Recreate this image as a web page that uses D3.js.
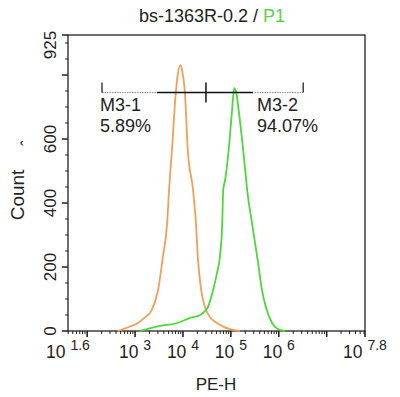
<!DOCTYPE html>
<html><head><meta charset="utf-8">
<script src="https://cdn.jsdelivr.net/npm/d3@7"></script>
<style>body{margin:0;background:#fff}svg{display:block}text{font-family:"Liberation Sans",Arial,sans-serif}</style>
</head><body>
<script>
// ---- data ----
const titleMain = "bs-1363R-0.2 / ";
const titleGate = "P1";
const xLabel = "PE-H";
const yLabel = "Count";
const yMax = 925;
const yTickLabels = [0, 200, 400, 600, 925];
const xTickLabelExps = ["1.6", "3", "4", "5", "6", "7.8"];
const xDomainExp = [1.6, 7.8];

// control (orange) histogram: log10(PE-H), count
const ctrlLog = [2.64,2.75,2.9,3.06,3.2,3.35,3.48,3.58,3.67,3.71,3.77,3.85,3.89,3.94,3.98,4.04,4.10,4.21,4.27,4.31,4.38,4.46,4.56,4.71,4.85,4.98,5.19];
const ctrlCnt = [0,6,14,25,42,66,128,231,338,441,566,744,800,831,816,744,566,441,338,231,128,75,44,25,13,6,0];

// sample (green) histogram
const sampLog = [3.10,3.25,3.52,3.88,4.15,4.36,4.46,4.52,4.63,4.71,4.77,4.82,4.84,4.88,4.96,5.02,5.07,5.11,5.17,5.25,5.32,5.34,5.44,5.55,5.65,5.73,5.86,5.98,6.13];
const sampCnt = [0,6,16,25,41,50,63,75,128,181,231,338,441,472,575,681,759,747,681,575,472,441,338,231,128,75,25,6,0];

// gates
const gateNames = ["M3-1", "M3-2"];
const gatePcts = ["5.89%", "94.07%"];
const gateBoundsLog = [2.31, 4.48, 6.51];
const gateSolidLog = [3.46, 5.46];
const gateLevel = 745;

// ---- drawing ----
const W = 400, H = 397;
const L = 68, R = 365, T = 35, B = 331;
const svg = d3.select("body").append("svg").attr("width", W).attr("height", H);

const x = d3.scaleLog().domain(xDomainExp.map(e => Math.pow(10, e))).range([L, R]);
const y = d3.scaleLinear().domain([0, yMax]).range([B, T]);

// frame
svg.append("rect").attr("x", L).attr("y", T).attr("width", R - L).attr("height", B - T)
  .attr("fill", "none").attr("stroke", "#222").attr("stroke-width", 1.3);

// x ticks
const xt = svg.append("g");
const lo = Math.pow(10, xDomainExp[0]), hi = Math.pow(10, xDomainExp[1]);
for (let d = 1; d <= 7; d++) {
  for (let m = 1; m <= 9; m++) {
    const v = m * Math.pow(10, d);
    if (v < lo || v > hi) continue;
    const major = m === 1;
    xt.append("line").attr("x1", x(v)).attr("x2", x(v)).attr("y1", B).attr("y2", B + (major ? 6 : 3))
      .attr("stroke", "#222").attr("stroke-width", major ? 1.6 : 1);
  }
}
xt.append("line").attr("x1", R).attr("x2", R).attr("y1", B).attr("y2", B + 6).attr("stroke", "#222").attr("stroke-width", 1.6);
xTickLabelExps.forEach(e => {
  const t = svg.append("text").attr("x", x(Math.pow(10, +e))).attr("y", 358)
    .attr("text-anchor", "middle").attr("font-size", 17.5).attr("fill", "#222");
  t.append("tspan").text("10 ");
  t.append("tspan").attr("font-size", 14).attr("dy", -8).text(e);
});

// y ticks
const yt = svg.append("g");
for (let v = 0; v <= yMax; v += 50) {
  const major = v % 200 === 0;
  yt.append("line").attr("x1", L).attr("x2", L - (major ? 6 : 3)).attr("y1", y(v)).attr("y2", y(v))
    .attr("stroke", "#222").attr("stroke-width", major ? 1.5 : 1);
}
yt.append("line").attr("x1", L).attr("x2", L - 6).attr("y1", y(yMax)).attr("y2", y(yMax)).attr("stroke", "#222").attr("stroke-width", 1.5);
yTickLabels.forEach(v => {
  const cy = v === yMax ? y(v) + 10 : y(v);
  svg.append("text").attr("transform", `translate(56,${cy}) rotate(-90)`)
    .attr("text-anchor", "middle").attr("font-size", 17).attr("fill", "#222").text(v);
});

// axis titles
svg.append("text").attr("x", 216).attr("y", 390).attr("text-anchor", "middle")
  .attr("font-size", 17).attr("fill", "#222").text(xLabel);
svg.append("text").attr("transform", "translate(24,195) rotate(-90)").attr("text-anchor", "middle")
  .attr("font-size", 19).attr("fill", "#222").text(yLabel);
svg.append("text").attr("transform", "translate(33,143) rotate(-90)").attr("text-anchor", "middle")
  .attr("font-size", 16).attr("fill", "#222").text("ˆ");

// title
const tt = svg.append("text").attr("x", 212).attr("y", 22).attr("text-anchor", "middle")
  .attr("font-size", 18).attr("fill", "#222");
tt.append("tspan").text(titleMain);
tt.append("tspan").attr("fill", "#5ad24a").text(titleGate);

// histograms
const line = d3.line().x(d => x(Math.pow(10, d[0]))).y(d => y(d[1])).curve(d3.curveMonotoneX);
svg.append("path").datum(ctrlLog.map((v, i) => [v, ctrlCnt[i]]))
  .attr("d", line).attr("fill", "none").attr("stroke", "#f0a05a").attr("stroke-width", 1.8);
svg.append("path").datum(sampLog.map((v, i) => [v, sampCnt[i]]))
  .attr("d", line).attr("fill", "none").attr("stroke", "#4cd83a").attr("stroke-width", 1.8);

// gates
const gy = y(gateLevel);
const gx = gateBoundsLog.map(e => x(Math.pow(10, e)));
svg.append("line").attr("x1", gx[0]).attr("x2", gx[2]).attr("y1", gy).attr("y2", gy)
  .attr("stroke", "#888").attr("stroke-width", 1).attr("stroke-dasharray", "1.5,1");
svg.append("line").attr("x1", x(Math.pow(10, gateSolidLog[0]))).attr("x2", x(Math.pow(10, gateSolidLog[1])))
  .attr("y1", gy).attr("y2", gy).attr("stroke", "#111").attr("stroke-width", 1.5);
svg.append("line").attr("x1", gx[0]).attr("x2", gx[0]).attr("y1", gy - 10).attr("y2", gy).attr("stroke", "#222").attr("stroke-width", 1.3);
svg.append("line").attr("x1", gx[2]).attr("x2", gx[2]).attr("y1", gy - 10).attr("y2", gy).attr("stroke", "#222").attr("stroke-width", 1.3);
svg.append("line").attr("x1", gx[1]).attr("x2", gx[1]).attr("y1", gy - 10).attr("y2", gy + 10).attr("stroke", "#111").attr("stroke-width", 1.5);

const labX = [gx[0] - 2, 257];
gateNames.forEach((n, i) => {
  svg.append("text").attr("x", labX[i]).attr("y", 111).attr("font-size", 18).attr("fill", "#222").text(n);
  svg.append("text").attr("x", labX[i]).attr("y", 132).attr("font-size", 18).attr("fill", "#222").text(gatePcts[i]);
});
</script>
</body></html>
